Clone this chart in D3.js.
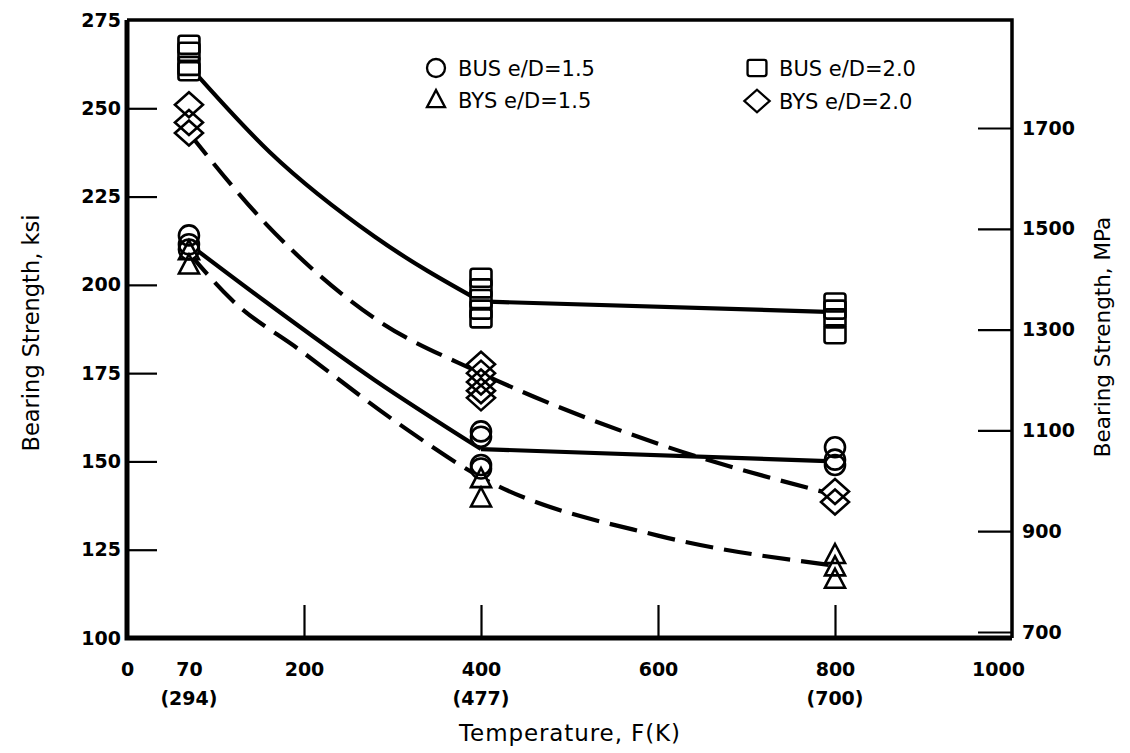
<!DOCTYPE html>
<html>
<head>
<meta charset="utf-8">
<script src="https://cdn.jsdelivr.net/npm/d3@7"></script>
<style>
  html, body { margin: 0; padding: 0; background: #fff; }
  svg { display: block; }
  text { font-family: "DejaVu Sans", sans-serif; fill: #000; }
</style>
</head>
<body>
<svg id="chart" width="1130" height="753"></svg>
<script>
// ---------------- data ----------------
// Test temperatures (F) and their Kelvin labels
const xTickValues = [0, 70, 200, 400, 600, 800, 1000];
const xKelvinTemps = [70, 400, 800];
const xKelvinLabels = ["(294)", "(477)", "(700)"];
const yTickValues = [100, 125, 150, 175, 200, 225, 250, 275];
const yRightTickValues = [700, 900, 1100, 1300, 1500, 1700];

// Measured points (temperature F, ksi)
const busD15T = [70, 70, 70, 400, 400, 400, 400, 800, 800, 800];
const busD15V = [214, 211.5, 210, 158.5, 157, 149, 148, 154, 150.5, 149];
const bysD15T = [70, 70, 400, 400, 800, 800, 800];
const bysD15V = [209.5, 205.5, 145, 139.5, 123.5, 120, 116.5];
const busD20T = [70, 70, 70, 70, 400, 400, 400, 400, 400, 800, 800, 800, 800];
const busD20V = [268, 266, 262, 260.5, 202, 199, 196, 193, 190.5, 195, 193, 190.5, 186];
const bysD20T = [70, 70, 70, 400, 400, 400, 400, 400, 800, 800];
const bysD20V = [251, 246, 243, 177.5, 175, 172.5, 170, 168, 141.5, 138.5];

// Faired curves (temperature F, ksi)
const busD15CurveT = [70, 154, 280, 400];
const busD15CurveV = [211.5, 195.7, 173, 153.5];
const busD15FlatT = [400, 800];
const busD15FlatV = [153.5, 150];
const busD20CurveT = [70, 162, 280, 400];
const busD20CurveV = [262, 237.4, 213.6, 195.3];
const busD20FlatT = [400, 800];
const busD20FlatV = [195.3, 192.3];
const bysD15CurveT = [70, 118.6, 195.5, 308, 400, 600, 800];
const bysD15CurveV = [209, 195.7, 181.5, 160.5, 145.5, 129, 120.5];
const bysD20CurveT = [70, 158, 280, 400, 600, 800];
const bysD20CurveV = [243, 217, 190.5, 175, 155, 140.5];

const legendLabels = ["BUS e/D=1.5", "BYS e/D=1.5", "BUS e/D=2.0", "BYS e/D=2.0"];

// ---------------- drawing ----------------
const svg = d3.select("#chart");
svg.append("rect").attr("width", 1130).attr("height", 753).attr("fill", "#fff");

const x = d3.scaleLinear().domain([0, 1000]).range([127, 1012]);
const y = d3.scaleLinear().domain([100, 275]).range([638, 20]);
const yR = d3.scaleLinear().domain([700, 1700]).range([632, 128]);

const zip = (a, b) => a.map((v, i) => [v, b[i]]);
const fmt = d3.format("d");

// marker shapes
const shapes = {
  circle: "M10,0 A10,10 0 1,1 -10,0 A10,10 0 1,1 10,0 Z",
  triangle: "M0,-11 L10,8 L-10,8 Z",
  square: "M-8,-9 L8,-9 Q10.5,-9 10.5,-6.5 L10.5,6.5 Q10.5,9 8,9 L-8,9 Q-10.5,9 -10.5,6.5 L-10.5,-6.5 Q-10.5,-9 -8,-9 Z",
  diamond: "M0,-12.5 L14,0 L0,12.5 L-14,0 Z"
};

// axes
const axLeft = d3.axisLeft(y).tickValues(yTickValues).tickFormat(fmt).tickSizeInner(-30).tickSizeOuter(0).tickPadding(6);
const gL = svg.append("g").attr("transform", `translate(${x(0)},0)`).call(axLeft);
const axRight = d3.axisRight(yR).tickValues(yRightTickValues).tickFormat(fmt).tickSizeInner(-34).tickSizeOuter(0).tickPadding(10);
const gR = svg.append("g").attr("transform", `translate(${x(1000)},0)`).call(axRight);
const axBottom = d3.axisBottom(x).tickValues(xTickValues).tickFormat(fmt).tickSizeInner(-33).tickSizeOuter(0).tickPadding(25);
const gB = svg.append("g").attr("transform", `translate(0,${y(100)})`).call(axBottom);

[gL, gR, gB].forEach(g => {
  g.select(".domain").remove();
  g.selectAll(".tick line").attr("stroke", "#000").attr("stroke-width", 2.2);
  g.selectAll(".tick text").attr("font-size", 19).attr("font-weight", "bold").attr("fill", "#000");
});
gL.selectAll(".tick line").filter(d => d === 100 || d === 275).remove();
gB.selectAll(".tick line").filter(d => d === 0 || d === 70 || d === 1000).remove();
gB.selectAll(".tick text").filter(d => d === 1000).attr("dx", -14);

// kelvin labels
svg.append("g").selectAll("text").data(xKelvinTemps).join("text")
  .attr("x", d => x(d)).attr("y", 705)
  .attr("text-anchor", "middle").attr("font-size", 19).attr("font-weight", "bold")
  .text((d, i) => xKelvinLabels[i]);

// frame
svg.append("path")
  .attr("d", `M${x(0)},${y(275)} L${x(1000)},${y(275)} L${x(1000)},${y(100)}`)
  .attr("fill", "none").attr("stroke", "#000").attr("stroke-width", 3.5);
svg.append("path")
  .attr("d", `M${x(0)},${y(275)} L${x(0)},${y(100)} L${x(1000)},${y(100)}`)
  .attr("fill", "none").attr("stroke", "#000").attr("stroke-width", 5).attr("stroke-linejoin", "miter");

// axis titles
svg.append("text").attr("transform", `translate(39,${(y(100) + y(275)) / 2 + 4}) rotate(-90)`)
  .attr("text-anchor", "middle").attr("font-size", 22.5).text("Bearing Strength, ksi");
svg.append("text").attr("transform", `translate(1110,${(y(100) + y(275)) / 2 + 8}) rotate(-90)`)
  .attr("text-anchor", "middle").attr("font-size", 21.5).text("Bearing Strength, MPa");
svg.append("text").attr("x", 570).attr("y", 741)
  .attr("text-anchor", "middle").attr("font-size", 23).attr("letter-spacing", 0.9).text("Temperature, F(K)");

// curves
const smooth = d3.line().x(d => x(d[0])).y(d => y(d[1])).curve(d3.curveMonotoneX);
const straight = d3.line().x(d => x(d[0])).y(d => y(d[1]));
const lineG = svg.append("g").attr("fill", "none").attr("stroke", "#000").attr("stroke-width", 4.2);
lineG.append("path").attr("d", smooth(zip(busD20CurveT, busD20CurveV)));
lineG.append("path").attr("d", straight(zip(busD20FlatT, busD20FlatV)));
lineG.append("path").attr("d", smooth(zip(busD15CurveT, busD15CurveV)));
lineG.append("path").attr("d", straight(zip(busD15FlatT, busD15FlatV)));
lineG.append("path").attr("d", smooth(zip(bysD20CurveT, bysD20CurveV))).attr("stroke-dasharray", "28,11");
lineG.append("path").attr("d", smooth(zip(bysD15CurveT, bysD15CurveV))).attr("stroke-dasharray", "28,11");

// markers
const pts = [].concat(
  zip(busD20T, busD20V).map(p => ({ t: p[0], v: p[1], s: "square" })),
  zip(bysD20T, bysD20V).map(p => ({ t: p[0], v: p[1], s: "diamond" })),
  zip(busD15T, busD15V).map(p => ({ t: p[0], v: p[1], s: "circle" })),
  zip(bysD15T, bysD15V).map(p => ({ t: p[0], v: p[1], s: "triangle" }))
);
svg.append("g").selectAll("path").data(pts).join("path")
  .attr("transform", d => `translate(${x(d.t)},${y(d.v)})`)
  .attr("d", d => shapes[d.s]).attr("fill", "#fff").attr("stroke", "none");
svg.append("g").selectAll("path").data(pts).join("path")
  .attr("transform", d => `translate(${x(d.t)},${y(d.v)})`)
  .attr("d", d => shapes[d.s]).attr("fill", "none").attr("stroke", "#000").attr("stroke-width", 2.6);

// legend
const legendItems = [
  { s: "circle", lx: 436, ly: 68 },
  { s: "triangle", lx: 436, ly: 100 },
  { s: "square", lx: 757, ly: 68 },
  { s: "diamond", lx: 757, ly: 101 }
];
const lg = svg.append("g");
lg.selectAll("path").data(legendItems).join("path")
  .attr("transform", d => `translate(${d.lx},${d.ly}) scale(0.9)`)
  .attr("d", d => shapes[d.s]).attr("fill", "#fff").attr("stroke", "#000").attr("stroke-width", 2.6);
lg.selectAll("text").data(legendItems).join("text")
  .attr("x", d => d.lx + 22).attr("y", d => d.ly + 8)
  .attr("font-size", 21).text((d, i) => legendLabels[i]);
</script>
</body>
</html>
